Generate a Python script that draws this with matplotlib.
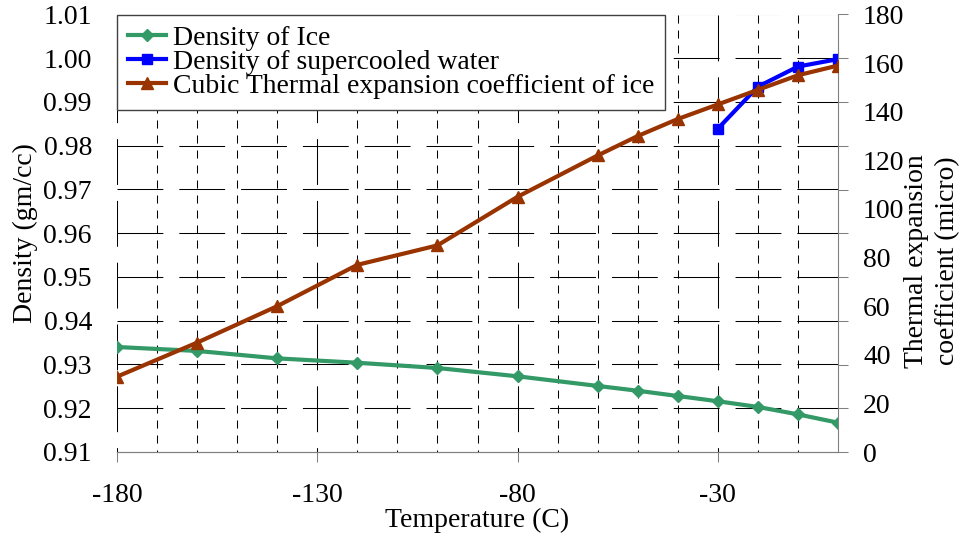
import numpy as np
import matplotlib
matplotlib.use('Agg')
import matplotlib.pyplot as plt

plt.rcParams['font.family'] = ['Liberation Serif', 'DejaVu Serif']
plt.rcParams['lines.scale_dashes'] = False

# temperatura (C)
temp_gelo = [-180, -160, -140, -120, -100, -80, -60, -50, -40, -30, -20, -10, 0]
densidade_gelo = [0.9340, 0.9331, 0.9314, 0.9304, 0.9292, 0.9273, 0.9251,
                  0.9240, 0.9228, 0.9216, 0.9203, 0.9186, 0.9167]
temp_agua = [-30, -20, -10, 0]
densidade_agua = [0.9839, 0.9935, 0.9981, 0.9998]
expansao = [31, 45, 60, 77, 85, 105, 122, 130, 137, 143, 149, 155, 159]

x_ticks = [-180, -130, -80, -30]
y_ticks = [0.91, 0.92, 0.93, 0.94, 0.95, 0.96, 0.97, 0.98, 0.99, 1.00, 1.01]
y2_ticks = [0, 20, 40, 60, 80, 100, 120, 140, 160, 180]

verde = '#339966'
azul = '#0000FF'
marrom = '#993300'
cinza = '#808080'
fs = 20
serif = ['Liberation Serif', 'DejaVu Serif']

fig = plt.figure(figsize=(9.66, 5.42), dpi=100)
ax = fig.add_axes([117 / 966, 90 / 542, 721 / 966, 437.5 / 542])
ax2 = ax.twinx()

ax.set_xlim(-180, 0)
ax.set_ylim(0.91, 1.01)
ax2.set_ylim(0, 180)

# grade: traço longo nas principais, tracejado curto nas secundárias
traco_longo = (0, (33, 11.5))
traco_curto = (0, (5.8, 5.0))
for v in y_ticks[1:]:
    ax.axhline(v, color='black', lw=0.75, ls=traco_longo, zorder=1)
for t in range(-180, 0, 10):
    estilo = traco_longo if t in x_ticks else traco_curto
    ax.axvline(t, ymin=1, ymax=0, color='black', lw=0.75, ls=estilo, zorder=1)

l1, = ax.plot(temp_gelo, densidade_gelo, color=verde, lw=3, marker='D',
              markersize=6, zorder=3, label='Density of Ice')
l2, = ax.plot(temp_agua, densidade_agua, color=azul, lw=3, marker='s',
              markersize=7, zorder=3, label='Density of supercooled water')
l3, = ax2.plot(temp_gelo, expansao, color=marrom, lw=3, marker='^',
               markersize=8, zorder=3, label='Cubic Thermal expansion coefficient of ice')

for a in (ax, ax2):
    a.spines['top'].set_visible(False)
    a.spines['left'].set_visible(False)
    a.spines['right'].set_color(cinza)
    a.spines['bottom'].set_color(cinza)
ax.spines['right'].set_visible(False)

ax.set_xticks(x_ticks)
ax.set_xticklabels([str(t) for t in x_ticks], fontfamily=serif)
ax.tick_params(axis='x', direction='out', length=7.2, width=0.75, color=cinza,
               pad=15, labelsize=fs)
ax.set_yticks(y_ticks)
ax.set_yticklabels([f'{v:.2f}' for v in y_ticks], fontfamily=serif)
ax.tick_params(axis='y', length=0, pad=18, labelsize=fs)

# eixo secundário: marcas alinhadas com a grade, rótulos de 20 em 20
ax2.yaxis.remove_overlapping_locs = False
ax2.set_yticks(np.linspace(0, 180, 11))
ax2.set_yticks(y2_ticks, minor=True)
ax2.set_yticklabels([str(v) for v in y2_ticks], minor=True, fontfamily=serif)
ax2.tick_params(axis='y', which='major', direction='out', length=7.2, width=0.75,
                color=cinza, labelright=False)
ax2.tick_params(axis='y', which='minor', length=0, pad=18, labelsize=fs)

ax.set_xlabel('Temperature (C)', fontsize=fs, labelpad=0)
ax.set_ylabel('Density (gm/cc)', fontsize=fs)
ax.yaxis.set_label_coords(-0.11, 0.5)
fig.text(932 / 966, 1 - 261 / 542, 'Thermal expansion\ncoefficient (micro)',
         fontsize=fs, rotation=90, ha='center', va='center', linespacing=1.3,
         multialignment='center')

ax2.set_zorder(ax.get_zorder() + 1)
ax2.patch.set_visible(False)

leg = ax2.legend(handles=[l1, l2, l3], loc='upper left', bbox_to_anchor=(0, 1),
                 borderaxespad=0, fontsize=fs, frameon=True, fancybox=False,
                 framealpha=1, edgecolor='#404040', handlelength=1.35,
                 handletextpad=0.25, labelspacing=-0.05, borderpad=0.4)
leg.get_frame().set_linewidth(1.0)
leg.set_zorder(5)

plt.savefig('out.png', dpi=100)
plt.close()
